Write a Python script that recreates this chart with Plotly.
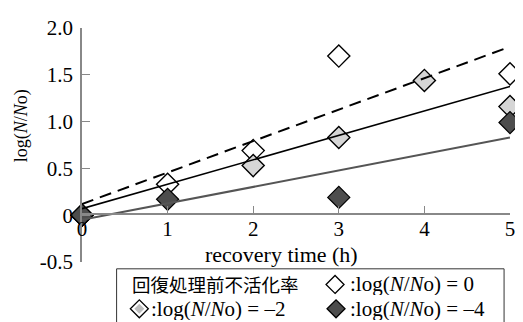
import plotly.graph_objects as go

# data
hours = [0, 1, 2, 3, 4, 5]
tick_labels_x = ["0", "1", "2", "3", "4", "5"]
y_tickvals = [-0.5, 0, 0.5, 1.0, 1.5, 2.0]
y_ticktext = ["-0.5", "0", "0.5", "1.0", "1.5", "2.0"]

open_x = [0, 1, 2, 3, 5]
open_y = [0.0, 0.33, 0.69, 1.70, 1.51]      # log(N/No)=0
gray_x = [0, 2, 3, 4, 5]
gray_y = [0.0, 0.53, 0.83, 1.44, 1.16]      # log(N/No)=-2
dark_x = [0, 1, 3, 5]
dark_y = [0.0, 0.17, 0.19, 0.99]            # log(N/No)=-4

fit_x = [0, 5]
fit_open = [0.12, 1.80]   # dashed
fit_gray = [0.07, 1.375]  # solid
fit_dark = [-0.05, 0.83]  # solid gray

# page has an 8px body margin; the figure is sized to fill the rest
OFF = 8
W, H = 523 - OFF, 322 - OFF
L, R, T, B = 82 - OFF, 8, 22 - OFF, 60
pw, ph = W - L - R, H - T - B

def px(x):  # reference-pixel x -> paper
    return (x - 82) / pw

def py(y):  # reference-pixel y -> paper
    return (262 - y) / ph

serif = "Liberation Serif, Times New Roman, serif"
cjk = "Noto Sans CJK JP"

fig = go.Figure()
fig.add_trace(go.Scatter(x=open_x, y=open_y, mode="markers", cliponaxis=False,
                         marker=dict(symbol="diamond", size=17, color="white",
                                     line=dict(color="black", width=1.4))))
fig.add_trace(go.Scatter(x=gray_x, y=gray_y, mode="markers", cliponaxis=False,
                         marker=dict(symbol="diamond", size=17, color="#d6d6d6",
                                     line=dict(color="black", width=1.4))))
fig.add_trace(go.Scatter(x=dark_x, y=dark_y, mode="markers", cliponaxis=False,
                         marker=dict(symbol="diamond", size=17, color="#4d4d4d",
                                     line=dict(color="black", width=1.2))))
fig.add_trace(go.Scatter(x=fit_x, y=fit_open, mode="lines", cliponaxis=False,
                         line=dict(color="black", width=2, dash="12px,7px")))
fig.add_trace(go.Scatter(x=fit_x, y=fit_gray, mode="lines", cliponaxis=False,
                         line=dict(color="black", width=1.6)))
fig.add_trace(go.Scatter(x=fit_x, y=fit_dark, mode="lines", cliponaxis=False,
                         line=dict(color="#555555", width=2)))

fig.update_layout(
    width=W, height=H, margin=dict(l=L, r=R, t=T, b=B),
    plot_bgcolor="white", paper_bgcolor="white", showlegend=False,
    font=dict(family=serif, size=20, color="black"),
    xaxis=dict(range=[0, 5], tickvals=hours, ticktext=tick_labels_x,
               showgrid=False, zeroline=False, showline=True, linecolor="#888888",
               linewidth=1.5, ticks="inside", ticklen=7, tickcolor="#888888",
               anchor="free", position=py(213), ticklabelstandoff=-4,
               tickfont=dict(size=21, family=serif)),
    yaxis=dict(range=[-0.5, 2.0], tickvals=y_tickvals, ticktext=y_ticktext,
               showgrid=False, zeroline=False, showline=True, linecolor="#888888",
               linewidth=1.5, ticks="inside", ticklen=8, tickcolor="#888888",
               ticklabelstandoff=3, tickfont=dict(size=21, family=serif)),
)

fig.add_annotation(text="recovery time (h)", xref="paper", yref="paper",
                   x=px(284), y=py(254), xanchor="center", yanchor="middle",
                   showarrow=False, font=dict(size=22, family=serif))
fig.add_annotation(text="log(<i>N</i>/<i>N</i>o)", xref="paper", yref="paper",
                   x=px(21), y=py(122), xanchor="center", yanchor="middle",
                   showarrow=False, textangle=-90, font=dict(size=18, family=serif))

# legend box
fig.add_shape(type="rect", xref="paper", yref="paper",
              x0=px(117), x1=px(509), y0=py(345), y1=py(269),
              line=dict(color="#333333", width=1), fillcolor="white", layer="above")

# legend keys (diamonds drawn as pixel-sized shapes)
diamond = "M0,-9 L9,0 L0,9 L-9,0 Z"
small = "M0,-5 L5,0 L0,5 L-5,0 Z"
keys = [(338, 285, "white", diamond, 1.3),
        (140, 310, "white", diamond, 1.3),
        (140, 310, "#bdbdbd", small, 0),
        (339, 310, "#4d4d4d", diamond, 1.3)]
for x, y, fill, path, lw in keys:
    fig.add_shape(type="path", xref="paper", yref="paper",
                  xsizemode="pixel", ysizemode="pixel",
                  xanchor=px(x), yanchor=py(y), path=path,
                  fillcolor=fill, line=dict(color="black", width=lw),
                  layer="above")

leg_text = [
    ("回復処理前不活化率", 132, 285, cjk, 18.5),
    (":log(<i>N</i>/<i>N</i>o) = 0", 352, 285, serif, 21),
    (":log(<i>N</i>/<i>N</i>o) = –2", 151, 310, serif, 21),
    (":log(<i>N</i>/<i>N</i>o) = –4", 352, 310, serif, 21),
]
for t, x, y, f, s in leg_text:
    fig.add_annotation(text=t, xref="paper", yref="paper", x=px(x), y=py(y),
                       xanchor="left", yanchor="middle", showarrow=False,
                       height=22, borderpad=0, valign="middle",
                       font=dict(size=s, family=f))

fig.write_html("out.html")
